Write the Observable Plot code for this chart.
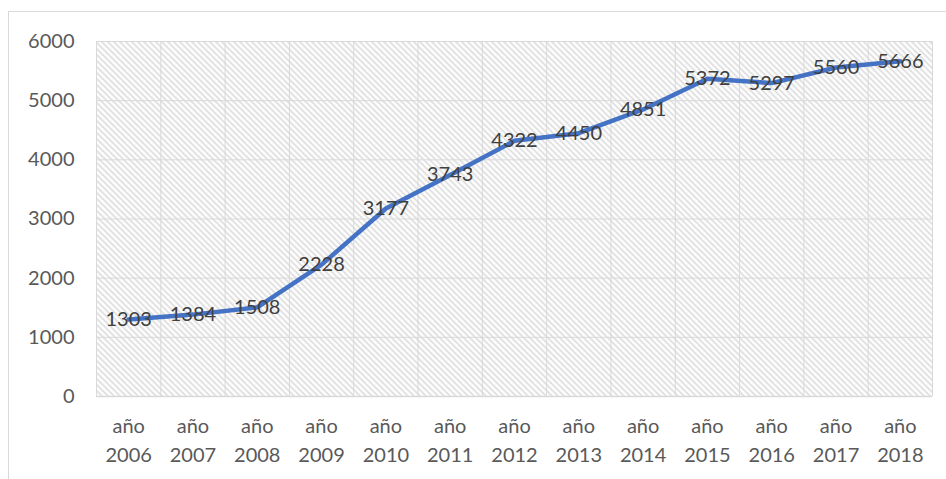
<!DOCTYPE html>
<html><head><meta charset="utf-8">
<script src="https://cdn.jsdelivr.net/npm/d3@7"></script>
<script src="https://cdn.jsdelivr.net/npm/@observablehq/plot@0.6"></script>
<style>
body{margin:0;background:#fff;overflow:hidden}
#wrap{position:relative;width:946px;height:479px}
#border{position:absolute;left:8px;top:11px;width:1000px;height:600px;border:1px solid #d9d9d9;pointer-events:none}
</style>
</head><body><div id="wrap"><div id="border"></div></div>
<script>
const years = [2006, 2007, 2008, 2009, 2010, 2011, 2012, 2013, 2014, 2015, 2016, 2017, 2018];
const categoryLabels = years.map(y => "año\n" + y);
const values = [1303, 1384, 1508, 2228, 3177, 3743, 4322, 4450, 4851, 5372, 5297, 5560, 5666];
const yTicks = [0, 1000, 2000, 3000, 4000, 5000, 6000];

const data = years.map((y, i) => ({i, year: y, value: values[i]}));
const bounds = d3.range(years.length + 1).map(i => i - 0.5);

const plot = Plot.plot({
  width: 946, height: 479,
  marginLeft: 96, marginRight: 14, marginTop: 41, marginBottom: 83,
  style: {fontFamily: "Lato", fontSize: "20px", color: "#595959", background: "transparent"},
  x: {type: "linear", domain: [-0.5, years.length - 0.5]},
  y: {domain: [0, 6000]},
  marks: [
    Plot.frame({fill: "url(#hatch)", stroke: null}),
    Plot.ruleY(yTicks.slice(1), {stroke: "#d9d9d9", strokeWidth: 1, strokeOpacity: 1}),
    Plot.ruleX(bounds, {stroke: "#d9d9d9", strokeWidth: 1, strokeOpacity: 1}),
    Plot.ruleY([0], {stroke: "#d9d9d9", strokeWidth: 1.5, strokeOpacity: 1}),
    Plot.axisY({ticks: yTicks, tickSize: 0, tickPadding: 22, label: null, fill: "#595959", tickFormat: d => String(d)}),
    Plot.axisX({ticks: d3.range(years.length), tickFormat: i => categoryLabels[i], tickSize: 0, tickPadding: 16, lineHeight: 1.45, label: null, fill: "#595959"}),
    Plot.line(data, {x: "i", y: "value", stroke: "#4472C4", strokeWidth: 4.5, curve: "linear", strokeLinecap: "round", strokeLinejoin: "round"}),
    Plot.text(data, {x: "i", y: "value", text: d => String(d.value), fill: "#404040", fontSize: 20})
  ]
});

const defs = d3.select(plot).insert("defs", ":first-child");
const pat = defs.append("pattern").attr("id", "hatch").attr("patternUnits", "userSpaceOnUse").attr("width", 6).attr("height", 6);
pat.append("rect").attr("width", 6).attr("height", 6).attr("fill", "#fff");
pat.append("path").attr("d", "M-1,-1 L7,7 M-1,5 L1,7 M5,-1 L7,1").attr("stroke", "#d6d6d6").attr("stroke-width", 1.5);

document.getElementById("wrap").appendChild(plot);
</script>
</body></html>
